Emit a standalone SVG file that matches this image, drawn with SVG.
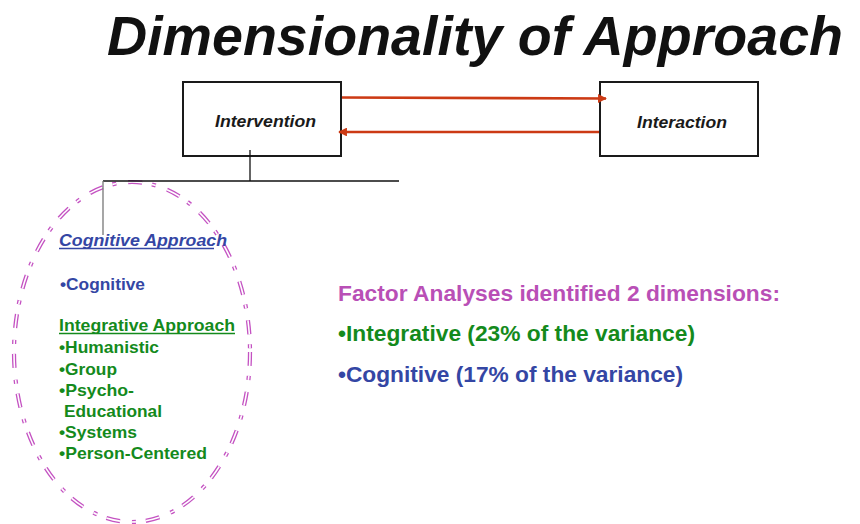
<svg xmlns="http://www.w3.org/2000/svg" width="860" height="524" viewBox="0 0 860 524">
  <defs>
    <style>
      .box { fill: #ffffff; stroke: #1a1a1a; stroke-width: 2; }
      .node-label { font-family: "Liberation Sans", Arial, sans-serif; font-weight: bold; font-style: italic; font-size: 16px; fill: #1a1a1a; text-anchor: middle; }
      .link { fill: none; stroke: #cc3a14; stroke-width: 2.6; }
      .tree { fill: none; stroke: #111111; stroke-width: 1.3; }
      .txt { font-family: "Liberation Sans", Arial, sans-serif; font-weight: bold; }
      .blue { fill: #3446a4; }
      .green { fill: #148a1c; }
      .magenta { fill: #b94fb6; }
      .ring { fill: none; stroke: #c452c2; stroke-width: 4.2; stroke-dasharray: 14 10 4 12; }
      .ring-gap { fill: none; stroke: #ffffff; stroke-width: 1.6; stroke-dasharray: 14 10 4 12; }
    </style>
    <marker id="head" viewBox="0 0 10 10" refX="9" refY="5" markerWidth="3.4" markerHeight="3.4" orient="auto" markerUnits="strokeWidth">
      <path d="M0,0 L10,5 L0,10 Z" fill="#cc3a14"/>
    </marker>
  </defs>

  <rect width="860" height="524" fill="#ffffff"/>

  <!-- Title -->
  <text x="107" y="55" font-family="'Liberation Sans', Arial, sans-serif" font-weight="bold" font-style="italic" font-size="56" fill="#111111" textLength="736" lengthAdjust="spacingAndGlyphs">Dimensionality of Approach</text>

  <!-- Grouping ellipse around the approach list -->
  <g id="approach-group">
    <ellipse class="ring" cx="132" cy="352" rx="118" ry="170"/>
    <ellipse class="ring-gap" cx="132" cy="352" rx="118" ry="170"/>
  </g>

  <!-- Nodes -->
  <g id="intervention">
    <rect class="box" x="183" y="82" width="158" height="74"/>
    <text class="node-label" x="265.5" y="127" textLength="101" lengthAdjust="spacingAndGlyphs">Intervention</text>
  </g>
  <g id="interaction">
    <rect class="box" x="600" y="82" width="158" height="74"/>
    <text class="node-label" x="682" y="128" textLength="90" lengthAdjust="spacingAndGlyphs">Interaction</text>
  </g>

  <!-- Connectors -->
  <g id="connectors">
    <line class="link" x1="342" y1="97.5" x2="606" y2="98.5" marker-end="url(#head)"/>
    <line class="link" x1="599" y1="132" x2="339" y2="132" marker-end="url(#head)"/>
    <line class="tree" x1="250" y1="150" x2="250" y2="181"/>
    <line class="tree" x1="103" y1="181" x2="399" y2="181"/>
    <line x1="103" y1="181" x2="103" y2="235" stroke="#777777" stroke-width="1.3"/>
  </g>

  <!-- Approach list -->
  <g id="approach-list" class="txt" font-size="16.5">
    <text class="blue" x="59" y="246" font-style="italic" textLength="168" lengthAdjust="spacingAndGlyphs">Cognitive Approach</text>
    <line x1="59" y1="248.5" x2="214" y2="248.5" stroke="#3446a4" stroke-width="1.6"/>
    <text class="blue" x="60" y="290" textLength="85" lengthAdjust="spacingAndGlyphs">•Cognitive</text>
    <text class="green" x="59" y="331" textLength="176" lengthAdjust="spacingAndGlyphs">Integrative Approach</text>
    <line x1="59" y1="333.5" x2="235" y2="333.5" stroke="#148a1c" stroke-width="1.6"/>
    <text class="green" x="59" y="353" textLength="100" lengthAdjust="spacingAndGlyphs">•Humanistic</text>
    <text class="green" x="59" y="374.5" textLength="58" lengthAdjust="spacingAndGlyphs">•Group</text>
    <text class="green" x="59" y="395.5" textLength="75" lengthAdjust="spacingAndGlyphs">•Psycho-</text>
    <text class="green" x="64" y="417" textLength="98" lengthAdjust="spacingAndGlyphs">Educational</text>
    <text class="green" x="59" y="438" textLength="78" lengthAdjust="spacingAndGlyphs">•Systems</text>
    <text class="green" x="59" y="459" textLength="148" lengthAdjust="spacingAndGlyphs">•Person-Centered</text>
  </g>

  <!-- Factor analysis summary -->
  <g id="factor-summary" class="txt" font-size="21.5">
    <text class="magenta" x="338" y="301" textLength="442" lengthAdjust="spacingAndGlyphs">Factor Analyses identified 2 dimensions:</text>
    <text class="green" x="338" y="341" textLength="357" lengthAdjust="spacingAndGlyphs">•Integrative (23% of the variance)</text>
    <text class="blue" x="338" y="382" textLength="345" lengthAdjust="spacingAndGlyphs">•Cognitive (17% of the variance)</text>
  </g>
</svg>
